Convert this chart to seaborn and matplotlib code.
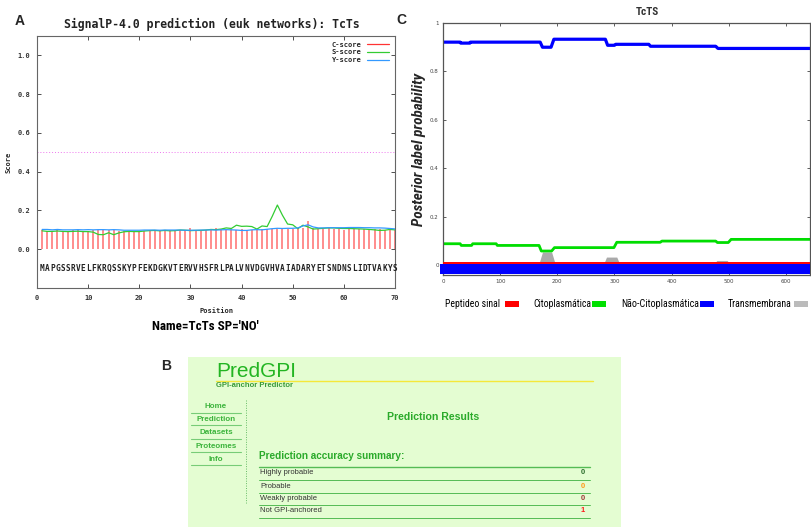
import numpy as np
import pandas as pd
import matplotlib
matplotlib.use('Agg')
import matplotlib.pyplot as plt
import seaborn as sns
from matplotlib import font_manager as fm
from matplotlib.patches import Rectangle
from matplotlib.lines import Line2D

sns.set_style('ticks')
plt.rcParams['font.family'] = ['DejaVu Sans']

# ---------------- Panel A data (SignalP) ----------------
sequence = "MAPGSSRVELFKRQSSKYPFEKDGKVTERVVHSFRLPALVNVDGVHVAIADARYETSNDNSLIDTVAKYS"
positions = list(range(1, 71))
c_score = [0.100, 0.092, 0.094, 0.100, 0.092, 0.094, 0.098, 0.100, 0.095, 0.096,
           0.098, 0.100, 0.099, 0.097, 0.100, 0.096, 0.093, 0.094, 0.096, 0.094,
           0.095, 0.098, 0.100, 0.097, 0.099, 0.100, 0.098, 0.101, 0.097, 0.108,
           0.101, 0.099, 0.100, 0.103, 0.108, 0.102, 0.101, 0.104, 0.100, 0.103,
           0.101, 0.100, 0.105, 0.102, 0.104, 0.106, 0.104, 0.103, 0.106, 0.105,
           0.104, 0.108, 0.146, 0.112, 0.106, 0.105, 0.108, 0.104, 0.103, 0.101,
           0.103, 0.105, 0.102, 0.104, 0.101, 0.102, 0.103, 0.100, 0.101, 0.098]
s_score = [0.095, 0.092, 0.092, 0.094, 0.092, 0.091, 0.092, 0.093, 0.091, 0.091,
           0.088, 0.076, 0.075, 0.085, 0.075, 0.084, 0.090, 0.092, 0.091, 0.091,
           0.094, 0.096, 0.097, 0.095, 0.097, 0.095, 0.096, 0.099, 0.098, 0.096,
           0.097, 0.097, 0.099, 0.102, 0.101, 0.104, 0.110, 0.107, 0.124, 0.118,
           0.119, 0.117, 0.104, 0.120, 0.117, 0.170, 0.228, 0.175, 0.130, 0.126,
           0.106, 0.124, 0.115, 0.104, 0.106, 0.108, 0.110, 0.110, 0.108, 0.107,
           0.107, 0.106, 0.105, 0.104, 0.102, 0.100, 0.097, 0.098, 0.102, 0.100]
y_score = [0.102, 0.102, 0.100, 0.102, 0.100, 0.100, 0.100, 0.101, 0.100, 0.101,
           0.100, 0.101, 0.101, 0.100, 0.101, 0.100, 0.098, 0.098, 0.098, 0.098,
           0.099, 0.099, 0.099, 0.098, 0.099, 0.099, 0.099, 0.099, 0.098, 0.098,
           0.098, 0.099, 0.099, 0.100, 0.099, 0.100, 0.101, 0.100, 0.099, 0.097,
           0.097, 0.100, 0.101, 0.100, 0.103, 0.106, 0.108, 0.107, 0.108, 0.108,
           0.110, 0.120, 0.126, 0.115, 0.110, 0.110, 0.111, 0.111, 0.111, 0.111,
           0.112, 0.112, 0.112, 0.111, 0.111, 0.110, 0.110, 0.109, 0.107, 0.105]
threshold = 0.5
a_xticks = [0, 10, 20, 30, 40, 50, 60, 70]
a_yticks = [0.0, 0.2, 0.4, 0.6, 0.8, 1.0]

# ---------------- Panel C data (Phobius) ----------------
seq_length = 642
noncyto_x = [0, 30, 31, 47, 48, 170, 174, 189, 194, 284, 288, 300, 302, 360, 363, 477, 481, 642]
noncyto_y = [0.921, 0.921, 0.917, 0.917, 0.921, 0.921, 0.900, 0.900, 0.933, 0.933,
             0.908, 0.908, 0.912, 0.912, 0.904, 0.904, 0.895, 0.895]
cyto_x = [0, 30, 32, 50, 52, 93, 95, 168, 172, 190, 195, 299, 304, 380, 383, 477, 480, 499, 504, 642]
cyto_y = [0.089, 0.089, 0.082, 0.082, 0.089, 0.089, 0.082, 0.082, 0.059, 0.059,
          0.073, 0.073, 0.095, 0.095, 0.100, 0.100, 0.094, 0.094, 0.107, 0.107]
tm_x = [0, 32, 36, 46, 50, 167, 174, 190, 197, 280, 286, 304, 310, 472, 479, 497, 504, 642]
tm_y = [0, 0, 0.012, 0.012, 0, 0, 0.055, 0.055, 0, 0, 0.034, 0.034, 0, 0, 0.02, 0.02, 0, 0]
signal_x = [0, 642]
signal_y = [0.009, 0.009]
c_xticks = [0, 100, 200, 300, 400, 500, 600]
c_yticks = [0, 0.2, 0.4, 0.6, 0.8, 1.0]
c_ytick_labels = ["0", "0.2", "0.4", "0.6", "0.8", "1"]
c_legend_labels = ["Peptideo sinal", "Citoplasmática", "Não-Citoplasmática", "Transmembrana"]
c_legend_colors = ["#ff0000", "#00e000", "#0000ff", "#bbbbbb"]

# ---------------- Panel B data (PredGPI) ----------------
menu_items = ["Home", "Prediction", "Datasets", "Proteomes", "Info"]
gpi_classes = ["Highly probable", "Probable", "Weakly probable", "Not GPI-anchored"]
gpi_counts = [0, 0, 0, 1]
gpi_value_colors = ["#2e6e2e", "#ff9a1a", "#a03a3a", "#ff1a1a"]

# ---------------- fonts ----------------
_names = {f.name for f in fm.fontManager.ttflist}
_cond = {f.name for f in fm.fontManager.ttflist if f.stretch in ('condensed', 'semi-condensed', 'extra-condensed')}
narrow_kw = {'family': ['DejaVu Sans']}
for cand in ['Liberation Sans Narrow', 'Arial Narrow', 'DejaVu Sans Condensed', 'Roboto Condensed',
             'Open Sans Condensed']:
    if cand in _names:
        narrow_kw = {'family': [cand, 'DejaVu Sans']}
        break
else:
    if 'DejaVu Sans' in _cond:
        narrow_kw = {'family': ['DejaVu Sans'], 'fontstretch': 'condensed'}

mono = ['DejaVu Sans Mono']
arial = ['Liberation Sans', 'DejaVu Sans']

# ---------------- Figure ----------------
W, H = 811, 528
fig = plt.figure(figsize=(W / 100, H / 100), dpi=100)
fig.patch.set_facecolor('white')


def rect(l, t, r, b):
    return [l / W, 1 - b / H, (r - l) / W, (b - t) / H]


def fx(px):
    return px / W


def fy(py):
    return 1 - py / H


fit_list = []  # (text, target length px)

# ===== Panel A =====
axA = fig.add_axes(rect(37, 36, 395, 288))
dfA = pd.DataFrame({'Position': positions, 'C': c_score, 'S': s_score, 'Y': y_score})
axA.vlines(dfA['Position'], 0, dfA['C'], color='#ff8484', lw=1.3, zorder=2)
sns.lineplot(data=dfA, x='Position', y='S', ax=axA, color='#33cc33', lw=0.9, zorder=3)
sns.lineplot(data=dfA, x='Position', y='Y', ax=axA, color='#3399ff', lw=0.9, zorder=3)
axA.axhline(threshold, color='#ee77ee', ls=(0, (1, 2)), lw=0.7, zorder=1)
for p, aa in zip(positions, sequence):
    axA.text(p, -0.1, aa, ha='center', va='center', family=mono,
             fontweight='bold', fontsize=5.6, color='#222222')
axA.set_xlim(0, 70)
axA.set_ylim(-0.2, 1.1)
axA.set_xticks(a_xticks)
axA.set_yticks(a_yticks)
axA.set_xticklabels([str(t) for t in a_xticks], family=mono, fontweight='bold', fontsize=5)
axA.set_yticklabels(["%.1f" % t for t in a_yticks], family=mono, fontweight='bold', fontsize=5)
axA.tick_params(direction='in', length=3, width=0.6, top=True, right=True, colors='#333333',
                pad=5)
axA.set_xlabel('Position', family=mono, fontweight='bold', fontsize=5, labelpad=5)
axA.set_ylabel('Score', family=mono, fontweight='bold', fontsize=5, labelpad=4)
for s in axA.spines.values():
    s.set_color('#666666')
    s.set_linewidth(0.8)
handles = [Line2D([], [], color='#ff3333', lw=0.9),
           Line2D([], [], color='#33cc33', lw=0.9),
           Line2D([], [], color='#3399ff', lw=0.9)]
axA.legend(handles, ['C-score', 'S-score', 'Y-score'], loc='upper right', frameon=False,
           markerfirst=False, handlelength=3.2, labelspacing=0.25, borderaxespad=0.4,
           prop={'family': mono, 'weight': 'bold', 'size': 5})
fig.text(fx(212), fy(24), 'SignalP-4.0 prediction (euk networks): TcTs', ha='center',
         va='center', family=mono, fontweight='bold', fontsize=8.3, color='#222222')
t = fig.text(fx(205), fy(326), "Name=TcTs SP='NO'", ha='center', va='center',
             fontweight='heavy', fontsize=13, color='black', **narrow_kw)
fit_list.append((t, 107))
fig.text(fx(20), fy(21), 'A', ha='center', va='center', family=arial, fontweight='bold',
         fontsize=10)

# ===== Panel C =====
axC = fig.add_axes(rect(443, 23, 810, 275))
axC.fill_between(tm_x, 0, tm_y, color='#aaaaaa', lw=0, zorder=1)
sns.lineplot(x=cyto_x, y=cyto_y, ax=axC, color='#00dd00', lw=2.0, sort=False,
             estimator=None, zorder=2)
sns.lineplot(x=noncyto_x, y=noncyto_y, ax=axC, color='#0000ff', lw=2.3, sort=False,
             estimator=None, zorder=2)
axC.add_patch(Rectangle((-6, -0.035), seq_length + 6, 0.039, facecolor='#0000ff',
                        edgecolor='none', clip_on=False, zorder=3))
sns.lineplot(x=signal_x, y=signal_y, ax=axC, color='#ff0000', lw=1.4, sort=False,
             estimator=None, zorder=4)
axC.set_xlim(0, seq_length)
axC.set_ylim(-0.04, 1.0)
axC.set_xticks(c_xticks)
axC.set_yticks(c_yticks)
axC.set_xticklabels([str(v) for v in c_xticks], fontsize=4, color='#555555')
axC.set_yticklabels(c_ytick_labels, fontsize=4, color='#555555')
axC.tick_params(direction='in', length=2, width=0.6, top=True, right=True, colors='#444444',
                pad=3)
axC.set_xlabel('')
yl = axC.set_ylabel('Posterior label probability', fontweight='bold',
                    fontstyle='italic', fontsize=11, labelpad=3, **narrow_kw)
fit_list.append((yl, 153))
for s in axC.spines.values():
    s.set_color('#555555')
    s.set_linewidth(0.9)
t = fig.text(fx(647), fy(12), 'TcTS', ha='center', va='center', fontweight='bold',
             fontsize=8, color='#333333', **narrow_kw)
fit_list.append((t, 23))
fig.text(fx(401), fy(20), 'C', ha='center', va='center', family=arial, fontweight='bold',
         fontsize=10)

leg_text_x = [445, 533, 621, 728]
leg_text_w = [55, 58, 78, 64]
leg_patch_x = [505, 592, 700, 794]
for lab, col, tx, tw, px in zip(c_legend_labels, c_legend_colors, leg_text_x, leg_text_w,
                                leg_patch_x):
    t = fig.text(fx(tx), fy(304), lab, ha='left', va='center', fontsize=8,
                 color='black', **narrow_kw)
    fit_list.append((t, tw))
    fig.patches.append(Rectangle((fx(px), fy(307)), 14 / W, 6 / H, facecolor=col,
                                 edgecolor='none', transform=fig.transFigure, figure=fig))

# ===== Panel B =====
axB = fig.add_axes(rect(188, 357, 621, 527))
axB.set_facecolor('#e4fdd2')
axB.set_xlim(188, 621)
axB.set_ylim(527, 357)
axB.set_xticks([])
axB.set_yticks([])
for s in axB.spines.values():
    s.set_visible(False)
axB.text(216, 377, 'PredGPI', ha='left', va='baseline', family=arial, fontsize=15,
         color='#22b522')
axB.plot([216, 593], [380.5, 380.5], color='#f5e83a', lw=1.0)
axB.text(216, 385.5, 'GPI-anchor Predictor', ha='left', va='center', family=arial,
         fontweight='bold', fontsize=5.5, color='#3a9a3a')
menu_y = [407, 419.5, 433, 446, 459.5]
for item, my in zip(menu_items, menu_y):
    axB.text(216, my, item, ha='center', va='center', family=arial, fontweight='bold',
             fontsize=5.8, color='#3cb43c')
    axB.plot([191, 241], [my + 5.5, my + 5.5], color='#77cc77', lw=0.8)
axB.plot([246, 246], [400, 503], color='#66bb66', lw=0.7, ls=(0, (1, 1.5)))
axB.text(433, 417, 'Prediction Results', ha='center', va='center', family=arial,
         fontweight='bold', fontsize=7.6, color='#2aaa2a')
axB.text(259, 456, 'Prediction accuracy summary:', ha='left', va='center', family=arial,
         fontweight='bold', fontsize=7.2, color='#2aaa2a')
row_lines = [467, 479.5, 492.5, 505, 517.5]
for i, ly in enumerate(row_lines):
    axB.plot([259, 590], [ly, ly], color='#55bb55', lw=1.0 if i == 0 else 0.7)
row_y = [473, 486, 498.5, 511]
for lab, cnt, col, ry in zip(gpi_classes, gpi_counts, gpi_value_colors, row_y):
    axB.text(260, ry, lab, ha='left', va='center', family=arial, fontsize=5.5,
             color='#333333')
    axB.text(583, ry, str(cnt), ha='center', va='center', family=arial, fontweight='bold',
             fontsize=5.5, color=col)
fig.text(fx(166), fy(366), 'B', ha='center', va='center', family=arial, fontweight='bold',
         fontsize=10)

# fit narrow texts to their measured widths in the reference
renderer = fig.canvas.get_renderer()
for _ in range(2):
    for txt, target in fit_list:
        bb = txt.get_window_extent(renderer)
        length = max(bb.width, bb.height)
        if length > 0:
            txt.set_fontsize(min(txt.get_fontsize() * target / length, 13))

fig.savefig('out.png', dpi=100, facecolor='white')
